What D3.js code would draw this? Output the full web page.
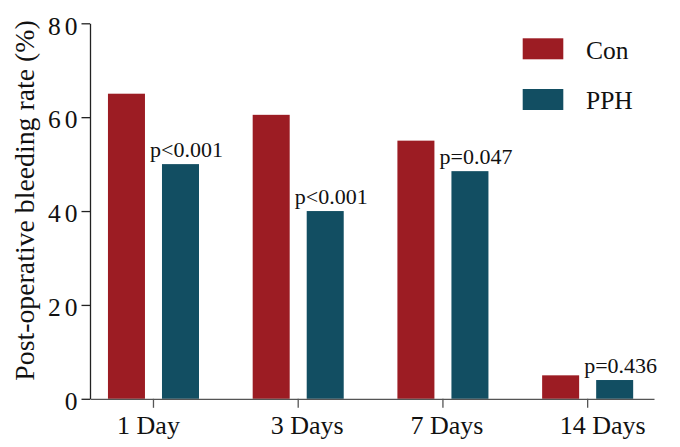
<!DOCTYPE html>
<html><head><meta charset="utf-8">
<script src="https://cdn.jsdelivr.net/npm/d3@7/dist/d3.min.js"></script>
</head>
<body style="margin:0;background:#fff"><svg id="c" width="680" height="447"></svg>
<script>
const categories = ["1 Day","3 Days","7 Days","14 Days"];
const series = ["Con","PPH"];
const conValues = [65, 60.5, 55, 5];
const pphValues = [50, 40, 48.5, 4];
const pLabels = ["p<0.001","p<0.001","p=0.047","p=0.436"];
const yTicks = [0,20,40,60,80];
const colors = {Con:"#9c1c23", PPH:"#124e62"};
const serifFont = "'Liberation Serif', 'Times New Roman', Tinos, serif";

const svg = d3.select("#c");
const mLeft = 90, mRight = 654, mTop = 23.3, mBottom = 398.8;

const y = d3.scaleLinear().domain([0,80]).range([mBottom, mTop]);
const x0 = d3.scaleBand().domain(categories).range([mLeft, mRight])
  .paddingInner(0.371).paddingOuter(0.134).align(0.463);
const x1 = d3.scaleBand().domain(series).range([0, x0.bandwidth()]).paddingInner(0.315);

const data = categories.map((c,i)=>({cat:c, Con:conValues[i], PPH:pphValues[i], p:pLabels[i]}));

// bars
const g = svg.append("g");
data.forEach(d=>{
  series.forEach(s=>{
    g.append("rect")
      .attr("x", x0(d.cat)+x1(s))
      .attr("y", y(d[s]))
      .attr("width", x1.bandwidth())
      .attr("height", y(0)-y(d[s]))
      .attr("fill", colors[s]);
  });
  g.append("text")
    .attr("x", x0(d.cat)+x1("PPH")+x1.bandwidth()/2+6)
    .attr("y", y(d.PPH)-7)
    .attr("text-anchor","middle")
    .style("font-family",serifFont)
    .style("font-size","22px")
    .attr("fill","#111")
    .text(d.p);
});

// y axis
const yAxis = svg.append("g").attr("transform",`translate(${mLeft},0)`)
  .call(d3.axisLeft(y).tickValues(yTicks).tickSize(8.5).tickSizeOuter(0).tickPadding(4));
yAxis.attr("font-family",null).attr("font-size",null);
yAxis.select(".domain").attr("stroke","#222").attr("stroke-width",1.3);
yAxis.selectAll(".tick line").attr("stroke","#222").attr("stroke-width",1.3);
yAxis.selectAll(".tick text").attr("fill","#111")
  .style("font-family",serifFont).style("font-size","25.5px")
  .attr("letter-spacing","4px").attr("dx","4").attr("dy","0.42em");

// x axis
const xAxis = svg.append("g").attr("transform",`translate(0,${mBottom})`)
  .call(d3.axisBottom(x0).tickSize(9).tickSizeOuter(0).tickPadding(8));
xAxis.attr("font-family",null).attr("font-size",null);
xAxis.select(".domain").attr("stroke","#555").attr("stroke-width",1.3);
xAxis.selectAll(".tick line").attr("stroke","#555").attr("stroke-width",1.3);
const labelShift = [-5, 9, 4, 15];
xAxis.selectAll(".tick text").attr("fill","#111")
  .style("font-family",serifFont).style("font-size","26px")
  .attr("dx",(d,i)=>labelShift[i]);

// y title
svg.append("text")
  .attr("transform",`translate(34,200.5) rotate(-90)`)
  .attr("text-anchor","middle")
  .style("font-family",serifFont)
  .style("font-size","27.8px")
  .attr("fill","#111")
  .text("Post-operative bleeding rate (%)");

// legend
const leg = svg.append("g");
series.forEach((s,i)=>{
  leg.append("rect").attr("x",522.7).attr("y",38.3+i*50.7).attr("width",40.6).attr("height",21).attr("fill",colors[s]);
  leg.append("text").attr("x",586).attr("y",58.5+i*50.7)
    .style("font-family",serifFont).style("font-size","25.5px")
    .attr("fill","#111").text(s);
});
</script></body></html>
